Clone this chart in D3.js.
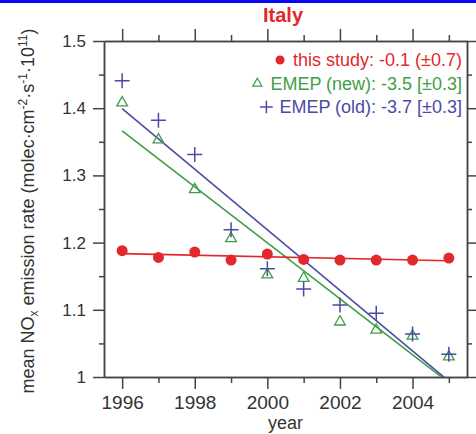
<!DOCTYPE html>
<html>
<head>
<meta charset="utf-8">
<script src="https://cdn.jsdelivr.net/npm/d3@7"></script>
<style>
  body { margin: 0; background: #fff; }
  svg { display: block; font-family: Arial, "Liberation Sans", sans-serif; }
  .axis path, .axis line { stroke: #444; stroke-width: 1.5; }
  .axis text { fill: #333; }
</style>
</head>
<body>
<div id="chart"></div>
<script>
// chart data
var years = [1996, 1997, 1998, 1999, 2000, 2001, 2002, 2003, 2004, 2005];
var thisStudy = [1.188, 1.178, 1.186, 1.174, 1.183, 1.175, 1.174, 1.174, 1.174, 1.177];
var emepNew = [1.408, 1.353, 1.279, 1.206, 1.152, 1.147, 1.082, 1.070, 1.061, 1.030];
var emepOld = [1.441, 1.382, 1.331, 1.219, 1.161, 1.131, 1.107, 1.095, 1.064, 1.034];
var legendLabels = ["this study: -0.1 (\u00b10.7)", "EMEP (new): -3.5 [\u00b10.3]", "EMEP (old): -3.7 [\u00b10.3]"];
var xTicks = [1996, 1998, 2000, 2002, 2004];
var xMinorTicks = [1997, 1999, 2001, 2003, 2005];
var yTicks = [1, 1.1, 1.2, 1.3, 1.4, 1.5];
var yMinorTicks = [1.05, 1.15, 1.25, 1.35, 1.45];

var red = "#e3282c", green = "#3f9e48", blue = "#4b4ba6";

// set the dimensions and margins of the graph
var W = 476, H = 434;
var margin = {top: 41, right: 9, bottom: 57, left: 104},
    width = W - margin.left - margin.right,
    height = H - margin.top - margin.bottom;

var x = d3.scaleLinear().domain([1995.5, 2005.5]).range([0, width]);
var y = d3.scaleLinear().domain([1, 1.5]).range([height, 0]);

var svg = d3.select("#chart").append("svg")
    .attr("width", W)
    .attr("height", H);

svg.append("rect").attr("width", W).attr("height", H).attr("fill", "#fff");
// blue strip at the very top
svg.append("rect").attr("width", W).attr("height", 3).attr("fill", "#0a0af0");

var g = svg.append("g")
    .attr("transform", "translate(" + margin.left + "," + margin.top + ")");

// clip for the fit lines
g.append("clipPath").attr("id", "clip")
  .append("rect").attr("width", width).attr("height", height);

// axes: major + minor ticks on all four sides
function fmtY(d) { return d === 1 ? "1" : d3.format(".1f")(d); }

g.append("g").attr("class", "axis")
    .attr("transform", "translate(0," + height + ")")
    .call(d3.axisBottom(x).tickValues(xTicks).tickFormat(d3.format("d")).tickSize(12).tickPadding(7).tickSizeOuter(0))
    .call(function(s) { s.selectAll("text").style("font-size", "19px"); });
g.append("g").attr("class", "axis")
    .attr("transform", "translate(0," + height + ")")
    .call(d3.axisBottom(x).tickValues(xMinorTicks).tickFormat("").tickSize(6).tickSizeOuter(0));
g.append("g").attr("class", "axis")
    .call(d3.axisTop(x).tickValues(xTicks).tickFormat("").tickSize(12).tickSizeOuter(0));
g.append("g").attr("class", "axis")
    .call(d3.axisTop(x).tickValues(xMinorTicks).tickFormat("").tickSize(6).tickSizeOuter(0));

g.append("g").attr("class", "axis")
    .call(d3.axisLeft(y).tickValues(yTicks).tickFormat(fmtY).tickSize(11).tickPadding(7).tickSizeOuter(0))
    .call(function(s) { s.selectAll("text").style("font-size", "17px"); });
g.append("g").attr("class", "axis")
    .call(d3.axisLeft(y).tickValues(yMinorTicks).tickFormat("").tickSize(5).tickSizeOuter(0));
g.append("g").attr("class", "axis")
    .attr("transform", "translate(" + width + ",0)")
    .call(d3.axisRight(y).tickValues(yTicks).tickFormat("").tickSize(11).tickSizeOuter(0));
g.append("g").attr("class", "axis")
    .attr("transform", "translate(" + width + ",0)")
    .call(d3.axisRight(y).tickValues(yMinorTicks).tickFormat("").tickSize(5).tickSizeOuter(0));

// linear fit of each series
function fit(vals) {
  var mx = d3.mean(years), my = d3.mean(vals);
  var sxy = d3.sum(years, function(d, i) { return (d - mx) * (vals[i] - my); });
  var sxx = d3.sum(years, function(d) { return (d - mx) * (d - mx); });
  var b = sxy / sxx, a = my - b * mx;
  return [years[0], years[years.length - 1]].map(function(t) { return {year: t, v: a + b * t}; });
}

var line = d3.line()
    .x(function(d) { return x(d.year); })
    .y(function(d) { return y(d.v); });

var lines = g.append("g").attr("clip-path", "url(#clip)");
[[emepNew, green], [emepOld, blue], [thisStudy, red]].forEach(function(s) {
  lines.append("path")
      .datum(fit(s[0]))
      .attr("fill", "none")
      .attr("stroke", s[1])
      .attr("stroke-width", 1.6)
      .attr("d", line);
});

// markers
var tri = d3.symbol().type(d3.symbolTriangle).size(50);
var plus = d3.symbol().type(d3.symbolPlus).size(75);

g.selectAll(".tri").data(emepNew).enter().append("path")
    .attr("class", "tri")
    .attr("transform", function(d, i) { return "translate(" + x(years[i]) + "," + y(d) + ")"; })
    .attr("d", tri)
    .attr("fill", "none")
    .attr("stroke", green)
    .attr("stroke-width", 1.3);

g.selectAll(".plus").data(emepOld).enter().append("path")
    .attr("class", "plus")
    .attr("transform", function(d, i) { return "translate(" + x(years[i]) + "," + y(d) + ")"; })
    .attr("d", plus)
    .attr("fill", "none")
    .attr("stroke", blue)
    .attr("stroke-width", 1.5);

g.selectAll(".dot").data(thisStudy).enter().append("circle")
    .attr("class", "dot")
    .attr("cx", function(d, i) { return x(years[i]); })
    .attr("cy", function(d) { return y(d); })
    .attr("r", 5.5)
    .attr("fill", red);

// legend
var legColors = [red, green, blue];
legendLabels.forEach(function(lab, i) {
  var ty = 66 + i * 23.5;
  var t = svg.append("text")
      .attr("x", 462)
      .attr("y", ty)
      .attr("text-anchor", "end")
      .attr("fill", legColors[i])
      .style("font-size", "18px")
      .text(lab);
  var x0 = 462 - t.node().getComputedTextLength() - 13;
  var cy = ty - 6;
  if (i === 0) {
    svg.append("circle").attr("cx", x0).attr("cy", cy).attr("r", 4.5).attr("fill", red);
  } else if (i === 1) {
    svg.append("path").attr("transform", "translate(" + x0 + "," + cy + ")")
        .attr("d", d3.symbol().type(d3.symbolTriangle).size(36))
        .attr("fill", "none").attr("stroke", green).attr("stroke-width", 1.2);
  } else {
    svg.append("path").attr("transform", "translate(" + x0 + "," + cy + ")")
        .attr("d", d3.symbol().type(d3.symbolPlus).size(55))
        .attr("fill", "none").attr("stroke", blue).attr("stroke-width", 1.5);
  }
});

// title
svg.append("text")
    .attr("x", 283)
    .attr("y", 22)
    .attr("text-anchor", "middle")
    .attr("fill", red)
    .style("font-size", "20px")
    .style("font-weight", "bold")
    .text("Italy");

// x label
svg.append("text")
    .attr("x", margin.left + width / 2)
    .attr("y", 429)
    .attr("text-anchor", "middle")
    .attr("fill", "#333")
    .style("font-size", "18px")
    .text("year");

// y label with sub/superscripts
var yl = svg.append("text")
    .attr("transform", "translate(34," + (margin.top + height / 2 + 2) + ") rotate(-90)")
    .attr("text-anchor", "middle")
    .attr("fill", "#333")
    .style("font-size", "18px");
yl.append("tspan").text("mean NO");
yl.append("tspan").attr("dy", 4).style("font-size", "12px").text("x");
yl.append("tspan").attr("dy", -4).text(" emission rate (molec\u00b7cm");
yl.append("tspan").attr("dy", -7).style("font-size", "12px").text("-2");
yl.append("tspan").attr("dy", 7).text("\u00b7s");
yl.append("tspan").attr("dy", -7).style("font-size", "12px").text("-1");
yl.append("tspan").attr("dy", 7).text("\u00b710");
yl.append("tspan").attr("dy", -7).style("font-size", "12px").text("11");
yl.append("tspan").attr("dy", 7).text(")");
</script>
</body>
</html>
